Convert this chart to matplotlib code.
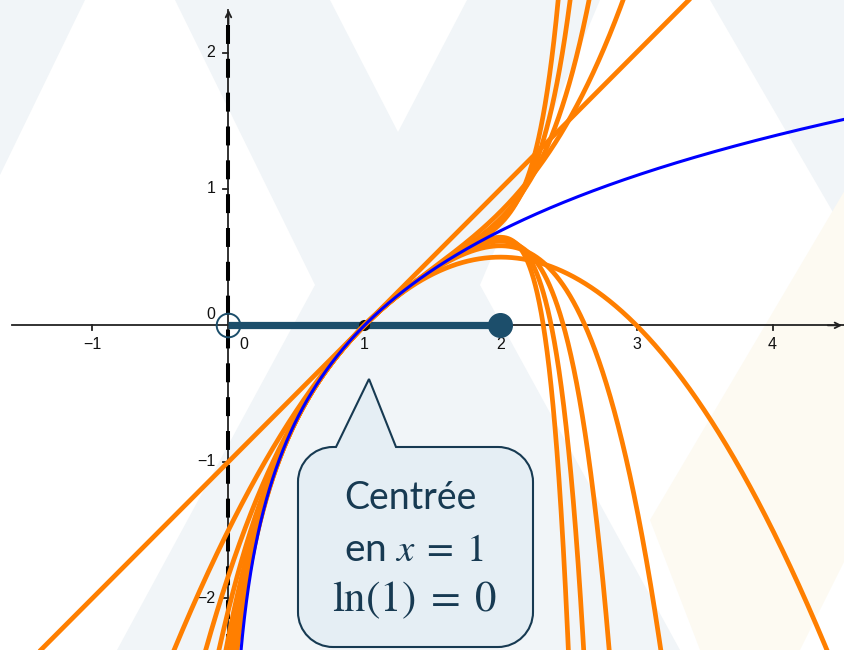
import numpy as np
import matplotlib.pyplot as plt
from matplotlib.path import Path
from matplotlib.patches import PathPatch, Polygon

plt.rcParams['mathtext.fontset'] = 'stix'

# Taylor expansions of ln(x) about x = 1
center = 1.0
degrees = [1, 2, 3, 4, 5, 6, 7, 8, 9, 10]
interval = [0.0, 2.0]          # convergence interval (0, 2]
x_ticks = [-1, 0, 1, 2, 3, 4]
x_tick_labels = ['−1', '0', '1', '2', '3', '4']
y_ticks = [-2, -1, 0, 1, 2]
y_tick_labels = ['−2', '−1', '0', '1', '2']
xlim = (-1.680, 4.533)
ylim = (-2.380, 2.385)

W, H, DPI = 845, 650, 100
ORANGE = '#ff7f00'
BLUE = '#0000ff'
TEAL = '#1c4e6b'
AXIS = '#222222'
NAVY = '#173a52'

fig = plt.figure(figsize=(W / DPI, H / DPI), dpi=DPI)
fig.patch.set_facecolor('white')

# --- faint watermark shapes behind the graph (pixel coordinates) ---
bg = fig.add_axes([0, 0, 1, 1], zorder=0)
bg.set_xlim(0, W)
bg.set_ylim(H, 0)
bg.axis('off')
gray = '#f1f5f8'
beige = '#fdfaf2'
for pts in [
    [(0, 0), (85, 0), (0, 175)],
    [(175, 0), (330, 0), (398, 132), (467, 0), (600, 0), (480, 285),
     (680, 650), (117, 650), (315, 285)],
    [(710, 0), (845, 0), (845, 233)],
]:
    bg.add_patch(Polygon(pts, closed=True, fc=gray, ec='none'))
bg.add_patch(Polygon([(845, 190), (650, 520), (700, 650), (800, 650), (845, 560)],
                     closed=True, fc=beige, ec='none'))

# --- graph in data coordinates ---
ax = fig.add_axes([0, 0, 1, 1], zorder=1)
ax.set_xlim(*xlim)
ax.set_ylim(*ylim)
ax.axis('off')
ax.patch.set_alpha(0)

px = (xlim[1] - xlim[0]) / W
py = (ylim[1] - ylim[0]) / H

# axes with arrows
ax.plot([xlim[0] + 12 * px, xlim[1]], [0, 0], color=AXIS, lw=1.3, zorder=2)
ax.annotate('', xy=(xlim[1], 0), xytext=(xlim[1] - 20 * px, 0),
            arrowprops=dict(arrowstyle='->', color=AXIS, lw=1.3), zorder=2)
ax.plot([0, 0], [ylim[0], ylim[1] - 10 * py], color=AXIS, lw=1.3, zorder=2)
ax.annotate('', xy=(0, ylim[1] - 7 * py), xytext=(0, ylim[1] - 27 * py),
            arrowprops=dict(arrowstyle='->', color=AXIS, lw=1.3), zorder=2)

# vertical asymptote x = 0
ax.plot([0, 0], [ylim[1] - 25 * py, ylim[0] - 0.1], color='black', lw=2.9,
        dashes=(4.7, 3.7), zorder=2)

# ticks and labels
tick_font = dict(fontsize=11.5, family='Liberation Sans', color='#111111')
for t, lab in zip(x_ticks, x_tick_labels):
    if t != 0:
        ax.plot([t, t], [0, -5 * py], color=AXIS, lw=1.3, zorder=2)
        ax.text(t, -19 * py, lab, ha='center', va='center', **tick_font)
    else:
        ax.text(t + 15 * px, -19 * py, lab, ha='center', va='center', **tick_font)
for t, lab in zip(y_ticks, y_tick_labels):
    if t != 0:
        ax.plot([-5 * px, 0], [t, t], color=AXIS, lw=1.3, zorder=2)
        ax.text(-13 * px, t, lab, ha='right', va='center', **tick_font)
    else:
        ax.text(-13 * px, t + 11 * py, lab, ha='right', va='center', **tick_font)

# interval of convergence
ax.plot(interval, [0, 0], color=TEAL, lw=5.2, solid_capstyle='butt', zorder=3)
ax.plot(interval[0], 0, 'o', ms=17, mfc='none', mec=TEAL, mew=1.4, zorder=3)
ax.plot(interval[1], 0, 'o', ms=17, color=TEAL, zorder=3)
ax.plot(center, np.log(center), 'o', ms=7, color='#111111', zorder=3)

# Taylor polynomials
xs = np.linspace(xlim[0] - 0.1, xlim[1] + 0.1, 4000)
u = xs - center
for n in degrees:
    k = np.arange(1, n + 1)
    ys = np.sum(((-1.0) ** (k + 1))[:, None] * u[None, :] ** k[:, None] / k[:, None], axis=0)
    ax.plot(xs, ys, color=ORANGE, lw=3.4, zorder=4, solid_capstyle='round')

# ln(x)
xl = np.linspace(0.0005, xlim[1] + 0.1, 4000)
ax.plot(xl, np.log(xl), color=BLUE, lw=2.2, zorder=5)

# --- callout bubble (pixel coordinates) ---
top = fig.add_axes([0, 0, 1, 1], zorder=2)
top.set_xlim(0, W)
top.set_ylim(H, 0)
top.axis('off')
top.patch.set_alpha(0)

L, R, T, B, r = 298, 533, 447, 647, 35
kap = 0.5523 * r
verts = [(336, T), (369, 379), (396, T), (R - r, T),
         (R - r + kap, T), (R, T + r - kap), (R, T + r),
         (R, B - r),
         (R, B - r + kap), (R - r + kap, B), (R - r, B),
         (L + r, B),
         (L + r - kap, B), (L, B - r + kap), (L, B - r),
         (L, T + r),
         (L, T + r - kap), (L + r - kap, T), (L + r, T),
         (336, T)]
codes = [Path.MOVETO, Path.LINETO, Path.LINETO, Path.LINETO,
         Path.CURVE4, Path.CURVE4, Path.CURVE4,
         Path.LINETO,
         Path.CURVE4, Path.CURVE4, Path.CURVE4,
         Path.LINETO,
         Path.CURVE4, Path.CURVE4, Path.CURVE4,
         Path.LINETO,
         Path.CURVE4, Path.CURVE4, Path.CURVE4,
         Path.CLOSEPOLY]
top.add_patch(PathPatch(Path(verts, codes), fc='#e5eef4', ec=NAVY, lw=1.5))

top.text(410, 498, 'Centrée', ha='center', va='center', fontsize=27,
         color=NAVY, family='Lato')
top.text(414, 550, r'en $x\;=\;1$', ha='center', va='center', fontsize=28,
         color=NAVY, family='Lato')
top.text(415, 600, r'$\mathrm{ln}(1)\;=\;0$', ha='center', va='center',
         fontsize=31, color=NAVY)

fig.savefig('out.png', dpi=DPI)
